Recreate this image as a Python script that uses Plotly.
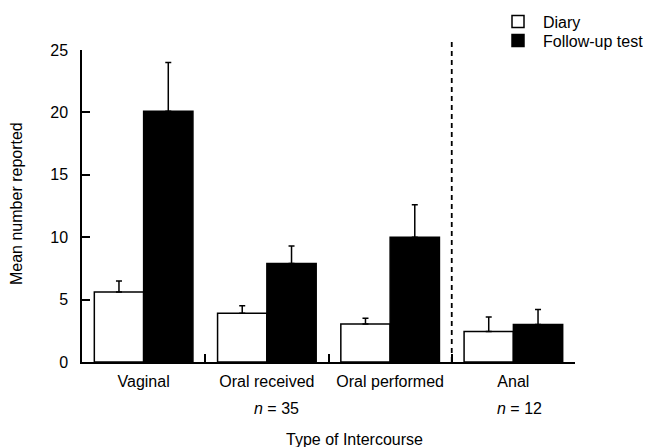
import plotly.graph_objects as go

categories = ["Vaginal", "Oral received", "Oral performed", "Anal"]
diary = [5.6, 3.9, 3.05, 2.45]
diary_err = [0.9, 0.6, 0.45, 1.15]
followup = [20.1, 7.9, 10.0, 3.0]
followup_err = [3.9, 1.4, 2.6, 1.2]
y_ticks = [0, 5, 10, 15, 20, 25]

FONT = "Liberation Sans, Arial, Helvetica, sans-serif"
FS = 16

fig = go.Figure()
fig.add_trace(go.Bar(
    name="Diary", x=categories, y=diary, legend="legend",
    marker=dict(color="white", line=dict(color="black", width=1.5)),
    error_y=dict(type="data", array=diary_err, arrayminus=[0]*4, symmetric=False,
                 color="black", thickness=1.5, width=3),
))
fig.add_trace(go.Bar(
    name="Follow-up test", x=categories, y=followup, legend="legend2",
    marker=dict(color="black", line=dict(color="black", width=1.5)),
    error_y=dict(type="data", array=followup_err, arrayminus=[0]*4, symmetric=False,
                 color="black", thickness=1.5, width=3),
))

# page body has an 8px margin, so the figure is shrunk and margins reduced by 8
OFF = 8
W, H = 651 - OFF, 447 - OFF
L, R, T, B = 82 - OFF, 76, 50 - OFF, 85
pw, ph = W - L - R, H - T - B

def px(xs):  # screen x -> paper
    return (xs - OFF - L) / pw

def py(ys):  # screen y -> paper
    return (H - B - (ys - OFF)) / ph

fig.add_shape(type="line", xref="x", yref="paper", x0=2.5, x1=2.5, y0=0, y1=py(40),
              line=dict(color="black", width=1.8, dash="5px,4px"))

ann = dict(showarrow=False, font=dict(family=FONT, size=FS, color="black"),
           xref="paper", yref="paper", xanchor="center", yanchor="middle")
fig.add_annotation(text="<i>n</i> = 35", x=px(276), y=py(408), **ann)
fig.add_annotation(text="<i>n</i> = 12", x=px(519), y=py(408), **ann)
fig.add_annotation(text="Type of Intercourse", x=px(354), y=py(439), **ann)
fig.add_annotation(text="Mean number reported", x=px(16), y=py(204), textangle=-90, **ann)

leg = dict(xanchor="left", yanchor="top", bgcolor="rgba(0,0,0,0)",
           font=dict(family=FONT, size=FS, color="black"), itemwidth=40)

fig.update_layout(
    width=W, height=H,
    margin=dict(l=L, r=R, t=T, b=B, pad=0, autoexpand=False),
    paper_bgcolor="white", plot_bgcolor="white",
    barmode="group", bargap=0.2, bargroupgap=0,
    font=dict(family=FONT, size=FS, color="black"),
    showlegend=True,
    legend=dict(x=px(493), y=py(4.5), **leg),
    legend2=dict(x=px(493), y=py(23.5), **leg),
    xaxis=dict(type="category", range=[-0.5, 3.5], showline=True, linecolor="black",
               linewidth=1.5, ticks="inside", tickson="boundaries", ticklen=8,
               tickwidth=1.5, tickcolor="black", showgrid=False, zeroline=False,
               ticklabelstandoff=4),
    yaxis=dict(range=[0, 25], tickvals=y_ticks, showline=True, linecolor="black",
               linewidth=1.5, ticks="inside", ticklen=8, tickwidth=1.5, tickcolor="black",
               showgrid=False, zeroline=False, ticklabelstandoff=9),
)

fig.write_html("out.html")
